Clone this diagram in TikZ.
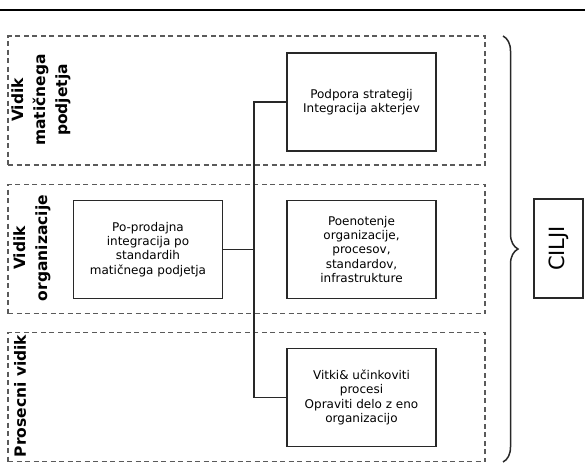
\documentclass[tikz,border=0pt]{standalone}
\usepackage{fontspec}
\setmainfont{DejaVu Sans}
\usetikzlibrary{decorations.pathreplacing}
\usepackage{xcolor}
\definecolor{framecolor}{RGB}{90,90,90}
\definecolor{linecolor}{RGB}{40,40,40}

\begin{document}
\begin{tikzpicture}[x=1pt,y=-1pt]
  \tikzset{
    group/.style={
      draw=framecolor,
      dash pattern=on 5pt off 3.5pt,
      line width=1.8pt,
      minimum width=477pt,
      minimum height=129pt,
      anchor=center
    },
    goal/.style={
      draw=linecolor,
      line width=1.5pt,
      minimum width=149pt,
      minimum height=98pt,
      align=center,
      anchor=center,
      font=\fontsize{12}{14.3}\selectfont,
      fill=white
    },
    aspect/.style={
      rotate=90,
      align=center,
      font=\bfseries\fontsize{15.5}{22}\selectfont
    },
    target/.style={
      draw=linecolor,
      line width=1.5pt,
      minimum width=49pt,
      minimum height=99pt,
      anchor=center,
      font=\fontsize{21}{22}\selectfont
    },
    link/.style={
      draw=linecolor,
      line width=1.5pt
    }
  }
  \useasboundingbox (0,0) rectangle (585,464);

  % Rule across the top
  \draw[line width=2pt] (0,10) -- (585,10);

  % Dashed groups, one per view
    \node[group] at (246.5, 100.5) (grpParent) {};
    \node[aspect] at (41, 100) (lblParent) {Vidik\\matičnega\\podjetja};

    \node[group] at (246.5, 249) (grpOrg) {};
    \node[aspect] at (32, 248) (lblOrg) {Vidik\\organizacije};

    \node[group] at (246.5, 397) (grpProc) {};
    \node[aspect] at (20, 396) (lblProc) {Prosecni vidik};

  % Goal boxes
    \node[goal] at (361.5, 102) (podpora) {
        Podpora strategij\\Integracija akterjev
    };
    \node[goal] at (148, 249.5) (prodaja) {
        Po-prodajna\\integracija po\\standardih\\matičnega podjetja
    };
    \node[goal] at (361.5, 249.5) (poenotenje) {
        Poenotenje\\organizacije,\\procesov,\\standardov,\\infrastrukture
    };
    \node[goal] at (361.5, 397.5) (vitki) {
        Vitki\& učinkoviti\\procesi\\Opraviti delo z eno\\organizacijo
    };

  % Connectors
    \coordinate (junction) at (254, 249.5);
    \draw[link] (prodaja.east) -- (junction);
    \draw[link] (podpora.west) -| (junction) |- (vitki.west);

  % Brace and target
    \draw[link, decorate, decoration={brace, amplitude=15pt}] (503, 36) -- (503, 462);
    \node[target] at (558.5, 248.5) (cilji) {\rotatebox{90}{CILJI}};

\end{tikzpicture}
\end{document}
